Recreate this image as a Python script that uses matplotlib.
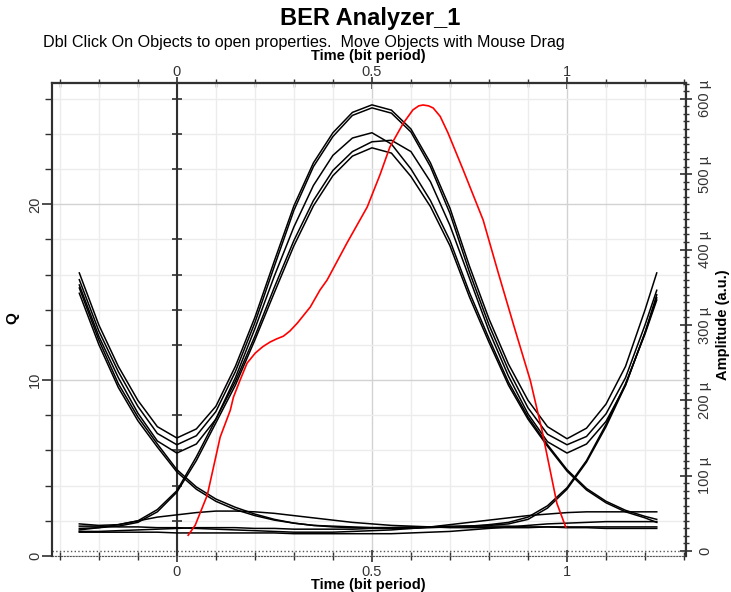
import matplotlib
matplotlib.use("Agg")
import matplotlib.pyplot as plt
import numpy as np
from matplotlib.ticker import FuncFormatter

plt.rcParams['font.family'] = ['Liberation Sans', 'DejaVu Sans']

# sample times of the eye traces (bit period)
t_grid = [-0.25, -0.2, -0.15, -0.1, -0.05, 0.0, 0.05, 0.1, 0.15, 0.2, 0.25,
          0.3, 0.35, 0.4, 0.45, 0.5, 0.55, 0.6, 0.65, 0.7, 0.75, 0.8, 0.85,
          0.9, 0.95, 1.0, 1.05, 1.1, 1.15, 1.2, 1.23]

# eye traces, amplitude in micro a.u.
trace_111a = [369, 300, 245, 200, 165, 150, 162, 192, 245, 310, 385, 458, 515, 555, 582, 592,
              585, 560, 515, 455, 378, 308, 248, 200, 165, 149, 163, 195, 245, 320, 369]
trace_111b = [360, 292, 238, 192, 156, 141, 153, 185, 238, 303, 378, 452, 510, 550, 578, 588,
              581, 556, 510, 448, 370, 300, 240, 190, 155, 141, 152, 182, 230, 300, 346]
trace_110 = [353, 285, 230, 183, 146, 130, 142, 175, 230, 295, 365, 430, 485, 525, 548, 555,
             540, 507, 465, 412, 343, 282, 224, 178, 141, 108, 83, 66, 54, 46, 42]
trace_011 = [36, 34, 35, 40, 55, 80, 125, 175, 225, 285, 350, 412, 465, 505, 530, 543,
             545, 530, 490, 432, 362, 292, 232, 182, 145, 130, 142, 172, 220, 290, 336]
trace_010 = [30, 31, 33, 38, 52, 78, 120, 170, 220, 280, 343, 405, 458, 498, 524, 535,
             528, 497, 457, 405, 337, 277, 220, 175, 139, 106, 81, 64, 52, 44, 38]
trace_100 = [349, 280, 222, 178, 142, 108, 85, 69, 58, 49, 42, 37, 34, 32, 31, 31,
             31, 32, 32, 33, 33, 33, 33, 32, 32, 31, 31, 30, 30, 30, 30]
trace_101 = [342, 274, 217, 173, 138, 105, 82, 66, 55, 47, 41, 37, 34, 33, 32, 31,
             31, 31, 32, 32, 33, 34, 36, 42, 57, 82, 118, 165, 220, 290, 340]
trace_001 = [26, 26, 27, 28, 29, 30, 31, 31, 31, 30, 30, 29, 29, 29, 29, 30,
             30, 30, 31, 32, 33, 35, 38, 45, 60, 84, 120, 168, 222, 288, 333]
trace_000a = [28, 31, 35, 40, 45, 48, 51, 53, 53, 52, 50, 47, 44, 41, 38, 36,
              34, 33, 32, 31, 31, 31, 31, 31, 32, 32, 32, 32, 32, 32, 32]
trace_000b = [33, 33, 32, 32, 31, 31, 30, 29, 28, 27, 26, 25, 25, 25, 26, 27,
              28, 30, 32, 35, 38, 41, 44, 47, 49, 51, 52, 52, 52, 52, 52]
trace_000c = [25, 25, 25, 25, 25, 24, 24, 24, 24, 24, 24, 23, 23, 23, 23, 23,
              23, 24, 25, 26, 28, 30, 32, 34, 36, 37, 38, 39, 39, 39, 39]

# Q factor vs sampling time
q_time = [0.029, 0.047, 0.078, 0.111, 0.137, 0.145, 0.162, 0.180, 0.201, 0.220, 0.239,
          0.256, 0.273, 0.290, 0.309, 0.342, 0.367, 0.385, 0.436, 0.488, 0.521, 0.546,
          0.580, 0.605, 0.620, 0.631, 0.645, 0.657, 0.675, 0.695, 0.734, 0.785, 0.824,
          0.865, 0.906, 0.936, 0.974, 0.997]
q_vals = [1.18, 1.75, 3.46, 6.76, 8.29, 9.03, 10.0, 10.97, 11.54, 11.9, 12.17,
          12.35, 12.5, 12.8, 13.25, 14.16, 15.13, 15.69, 17.8, 19.85, 21.7, 23.26,
          24.6, 25.37, 25.6, 25.65, 25.6, 25.48, 25.0, 24.06, 21.95, 19.11, 16.09,
          13.0, 9.98, 7.13, 3.0, 1.63]

W, H = 731, 592
fig = plt.figure(figsize=(W / 100, H / 100), dpi=100)
ax = fig.add_axes([52 / W, 1 - 556 / H, (686 - 52) / W, (556 - 83) / H])
ax2 = ax.twinx()

ax.set_xlim(-0.32, 1.305)
ax.set_ylim(0, 26.9)

# grid
ax.set_xticks([0, 0.5, 1])
ax.set_xticklabels(['0', '0.5', '1'])
ax.set_xticks(np.arange(-0.3, 1.31, 0.1), minor=True)
ax.set_yticks([0, 10, 20])
ax.set_yticks(np.arange(0, 27, 2), minor=True)
ax.set_axisbelow(True)
ax.grid(which='minor', color='#ececec', lw=1)
ax.grid(which='major', color='#d2d2d2', lw=1)

# zero time axis with its ticks
ax.axvline(0, color='#303030', lw=1.5, zorder=1.5)
ax.plot(np.zeros(len(ax.get_yticks(minor=True))), ax.get_yticks(minor=True),
        ls='none', marker='_', ms=7, mew=1.2, color='#303030', zorder=1.5)

# eye traces
for tr in [trace_000a, trace_000b, trace_000c, trace_001, trace_100, trace_101,
           trace_010, trace_011, trace_110, trace_111b, trace_111a]:
    ax2.plot(t_grid, tr, color='black', lw=1.1)

# Q curve (left axis scale), drawn on top
ax2.plot(q_time, q_vals, color='red', lw=1.2, transform=ax.transData, zorder=5)
ax2.set_ylim(-6.6, 621)
ax2.axhline(0, color='#555555', lw=1, ls=':')

# bottom ticks
ax.tick_params(axis='x', which='both', direction='inout', colors='#303030',
               labelcolor='#333333', labelsize=10.5, pad=2)
ax.tick_params(axis='x', which='major', length=9, width=1.2)
ax.tick_params(axis='x', which='minor', length=6, width=1)

# top ticks
top = ax.secondary_xaxis('top')
top.set_xticks([0, 0.5, 1])
top.set_xticklabels(['0', '0.5', '1'])
top.set_xticks(np.arange(-0.3, 1.31, 0.1), minor=True)
top.tick_params(axis='x', which='both', direction='inout', colors='#303030',
                labelcolor='#333333', labelsize=10.5, pad=-1)
top.tick_params(axis='x', which='major', length=8, width=1.2)
top.tick_params(axis='x', which='minor', length=6, width=1)
top.spines['top'].set_color('#303030')
top.spines['top'].set_linewidth(1.5)

ax.tick_params(axis='y', which='both', direction='out', colors='#303030',
               labelcolor='#333333', labelsize=10.5, labelrotation=90)
ax.tick_params(axis='y', which='major', length=7, width=1.2, pad=0)
ax.tick_params(axis='y', which='minor', length=5, width=1)
for lab in ax.get_yticklabels():
    lab.set_va('center')

ax2.set_yticks(np.arange(0, 601, 100))
ax2.set_yticks(np.arange(0, 621, 10), minor=True)
ax2.yaxis.set_major_formatter(FuncFormatter(lambda v, p: '0' if v == 0 else '%d \u00b5' % v))
ax2.tick_params(axis='y', which='both', direction='inout', colors='#303030',
                labelcolor='#333333', labelsize=10.5, labelrotation=90)
ax2.tick_params(axis='y', which='major', length=8, width=1.2, pad=5)
ax2.tick_params(axis='y', which='minor', length=4, width=1)
for lab in ax2.get_yticklabels():
    lab.set_va('center')

for s in ['left', 'top', 'right']:
    ax.spines[s].set_color('#303030')
    ax.spines[s].set_linewidth(1.5)
    ax2.spines[s].set_color('#303030')
    ax2.spines[s].set_linewidth(1.5)
ax.spines['bottom'].set_linestyle(':')
ax.spines['bottom'].set_color('#555555')
ax2.spines['bottom'].set_visible(False)

fig.text(370 / W, 1 - 18 / H, 'BER Analyzer_1', fontsize=17, fontweight='bold',
         ha='center', va='center')
fig.text(43 / W, 1 - 42 / H, 'Dbl Click On Objects to open properties.  Move Objects with Mouse Drag',
         fontsize=11.6, ha='left', va='center')
fig.text(368 / W, 1 - 56 / H, 'Time (bit period)', fontsize=10.5, fontweight='bold',
         ha='center', va='center')
fig.text(368 / W, 1 - 585 / H, 'Time (bit period)', fontsize=10.5, fontweight='bold',
         ha='center', va='center')
fig.text(12 / W, 1 - 318 / H, 'Q', fontsize=11, fontweight='bold', rotation=90,
         ha='center', va='center')
fig.text(723 / W, 1 - 325 / H, 'Amplitude (a.u.)', fontsize=10.5, fontweight='bold',
         rotation=90, ha='center', va='center')

fig.savefig('out.png', dpi=100)
